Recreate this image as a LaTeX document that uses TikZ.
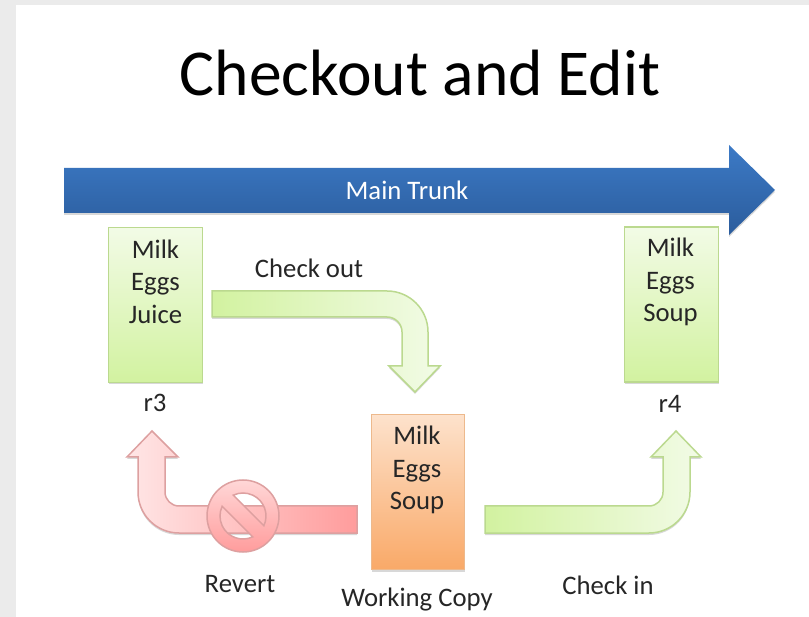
\documentclass[tikz,border=0pt]{standalone}
\usepackage{fontspec}
\setmainfont{Carlito}
\usetikzlibrary{shapes.arrows,shadows}

\definecolor{slidegray}{HTML}{EBEBEB}
\definecolor{textgray}{HTML}{262626}
\definecolor{trunktop}{HTML}{3C7AC6}
\definecolor{trunkbot}{HTML}{2B5C9C}
\definecolor{greenline}{HTML}{BBD98F}
\definecolor{greenlight}{HTML}{F2FBE6}
\definecolor{greendark}{HTML}{D2F2A0}
\definecolor{orangeline}{HTML}{EDB98C}
\definecolor{orangelight}{HTML}{FDE2CC}
\definecolor{orangedark}{HTML}{F9A968}
\definecolor{redline}{HTML}{DDA0A0}
\definecolor{redlight}{HTML}{FFE6E6}
\definecolor{reddark}{HTML}{FF9C9C}

\begin{document}
\begin{tikzpicture}[
        x=1pt, y=-1pt,
        softshadow/.style={drop shadow={shadow xshift=0pt, shadow yshift=-2pt, opacity=0.3}},
        item/.style={font=\fontsize{26.7}{32.5}\selectfont, text=textgray, inner sep=0pt},
        revbox/.style={rectangle, draw=greenline, line width=1.5pt, minimum width=94pt, minimum height=155pt,
            top color=greenlight, bottom color=greendark, softshadow},
        copybox/.style={rectangle, draw=orangeline, line width=1pt, minimum width=93pt, minimum height=155pt,
            top color=orangelight, bottom color=orangedark, softshadow},
        boxtext/.style={item, align=center, anchor=north},
        greenarrow/.style={draw=greenline, line width=1.5pt, left color=greendark, right color=greenlight, softshadow},
        redarrow/.style={draw=redline, line width=1.5pt, left color=redlight, right color=reddark, softshadow},
        forbid/.style={draw=redline, line width=1.5pt, top color=redlight!80!reddark, bottom color=reddark, even odd rule}
    ]
    \def\bigr{41}  % outer radius of the bends
    \def\smallr{14} % inner radius of the bends

    % slide
    \fill[slidegray] (0,0) rectangle (809,617);
    \fill[white] (16,5) rectangle (809,617);
    \useasboundingbox (0,0) rectangle (809,617);

    \node[font=\fontsize{65.5}{65.5}\selectfont, text=black, inner sep=0pt] (title) at (420,73) {Checkout and Edit};

    % main trunk
    \path[top color=trunktop, bottom color=trunkbot, softshadow]
        (64,168) -- (729,168) -- (729,145) -- (775,190) -- (729,235) -- (729,213) -- (64,213) -- cycle;
    \node[font=\fontsize{26.7}{30}\selectfont, text=white, inner sep=0pt] (trunk) at (407,190) {Main Trunk};

    % revisions
    \foreach \name/\x/\y/\off/\tx/\last in {rthree/155.5/305/13/0/Juice, rfour/671.5/304.5/12/-1/Soup} {
        \node[revbox] (\name) at (\x,\y) {};
        \node[boxtext] (\name text) at ([xshift=\tx pt,yshift=-\off pt]\name.north) {Milk\\Eggs\\\last};
    }
    \node[item] (rthreelabel) at (155,403) {r3};
    \node[item] (rfourlabel) at (670,404) {r4};

    % working copy
    \node[copybox] (copy) at (418,492) {};
    \node[boxtext] (copytext) at ([xshift=-1pt,yshift=-12pt]copy.north) {Milk\\Eggs\\Soup};
    \node[item] (copylabel) at (417,600) {Working Copy};

    % check out
    \path[greenarrow] (212,291) -- (387,291) arc (-90:0:\bigr) -- (428,366) -- (440,366) -- (415,392)
        -- (389,366) -- (402,366) -- (402,332) arc (0:-90:15) -- (212,317) -- cycle;
    \node[item] (checkout) at (309,268) {Check out};

    % revert
    \path[redarrow] (357,506) -- (179,506) arc (90:180:\smallr) -- (165,457) -- (178,457) -- (152,431)
        -- (127,457) -- (138,457) -- (138,492) arc (180:90:\bigr) -- (357,533) -- cycle;
    \path[forbid] (243,516) circle (36)
        [rotate around={-45:(243,516)}]
        (243,516) ++(20:23) arc (20:160:23) -- cycle
        (243,516) ++(-20:23) arc (-20:-160:23) -- cycle;
    \node[item] (revert) at (240,584) {Revert};

    % check in
    \path[greenarrow] (485,506) -- (649,506) arc (90:0:\smallr) -- (663,457) -- (651,457) -- (676,431)
        -- (701,457) -- (690,457) -- (690,492) arc (0:90:\bigr) -- (485,533) -- cycle;
    \node[item] (checkin) at (608,585) {Check in};
\end{tikzpicture}
\end{document}
